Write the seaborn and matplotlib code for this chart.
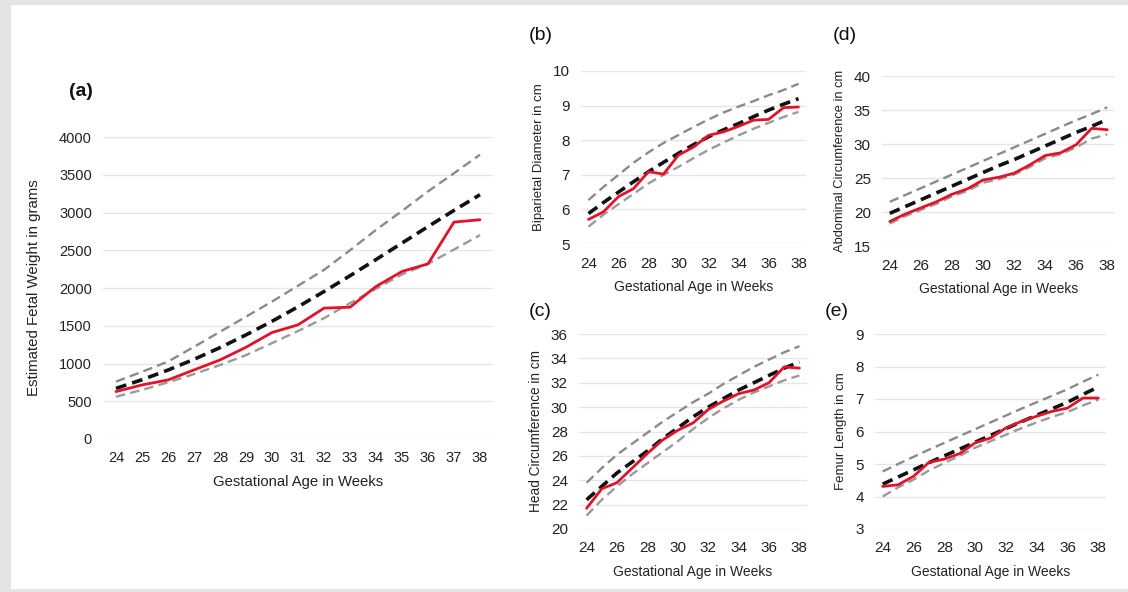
import numpy as np
import pandas as pd
import matplotlib
matplotlib.use("Agg")
import matplotlib.pyplot as plt
import seaborn as sns
from matplotlib.patches import Rectangle

weeks = list(range(24, 39))

# (a) Estimated fetal weight, grams
efw_p90 = [760, 890, 1025, 1220, 1420, 1620, 1820, 2030, 2240, 2500, 2770, 3020, 3280, 3520, 3766]
efw_p50 = [670, 785, 913, 1055, 1210, 1379, 1559, 1751, 1953, 2162, 2377, 2595, 2813, 3028, 3236]
efw_p10 = [560, 650, 750, 860, 980, 1110, 1270, 1430, 1600, 1800, 1990, 2180, 2320, 2510, 2700]
efw_obs = [628, 716, 782, 915, 1047, 1215, 1410, 1512, 1733, 1746, 2020, 2219, 2320, 2873, 2904]

# (b) Biparietal diameter, cm
bpd_p90 = [6.27, 6.65, 7.0, 7.35, 7.65, 7.92, 8.15, 8.38, 8.6, 8.8, 8.97, 9.13, 9.3, 9.45, 9.63]
bpd_p50 = [5.88, 6.2, 6.5, 6.8, 7.09, 7.36, 7.62, 7.87, 8.1, 8.3, 8.48, 8.68, 8.87, 9.04, 9.2]
bpd_p10 = [5.5, 5.85, 6.15, 6.45, 6.75, 7.0, 7.23, 7.48, 7.72, 7.93, 8.14, 8.33, 8.5, 8.67, 8.82]
bpd_obs = [5.71, 5.93, 6.37, 6.6, 7.09, 7.02, 7.57, 7.8, 8.14, 8.24, 8.4, 8.58, 8.6, 8.94, 8.96]

# (c) Head circumference, cm
hc_p90 = [23.8, 25.0, 26.1, 27.0, 27.9, 28.8, 29.6, 30.4, 31.1, 31.9, 32.6, 33.3, 33.9, 34.5, 35.0]
hc_p50 = [22.4, 23.5, 24.6, 25.5, 26.4, 27.4, 28.3, 29.2, 30.0, 30.7, 31.4, 32.0, 32.6, 33.2, 33.7]
hc_p10 = [21.1, 22.4, 23.5, 24.5, 25.4, 26.3, 27.2, 28.2, 29.1, 29.9, 30.6, 31.2, 31.7, 32.2, 32.6]
hc_obs = [21.7, 23.3, 23.8, 25.0, 26.2, 27.3, 28.1, 28.7, 29.8, 30.5, 31.1, 31.4, 32.0, 33.3, 33.2]

# (d) Abdominal circumference, cm
ac_p90 = [21.5, 22.5, 23.5, 24.5, 25.5, 26.5, 27.5, 28.5, 29.5, 30.5, 31.5, 32.5, 33.5, 34.4, 35.4]
ac_p50 = [19.8, 20.8, 21.8, 22.8, 23.8, 24.8, 25.8, 26.8, 27.7, 28.7, 29.7, 30.7, 31.7, 32.6, 33.6]
ac_p10 = [18.3, 19.4, 20.3, 21.2, 22.3, 23.1, 24.3, 24.8, 25.5, 26.6, 27.9, 28.5, 29.5, 30.8, 31.4]
ac_obs = [18.6, 19.7, 20.6, 21.5, 22.6, 23.4, 24.7, 25.1, 25.7, 26.9, 28.3, 28.7, 29.9, 32.3, 32.1]

# (e) Femur length, cm
fl_p90 = [4.77, 5.0, 5.22, 5.44, 5.65, 5.86, 6.07, 6.28, 6.49, 6.7, 6.9, 7.1, 7.3, 7.53, 7.75]
fl_p50 = [4.38, 4.6, 4.82, 5.04, 5.25, 5.46, 5.67, 5.88, 6.09, 6.3, 6.5, 6.7, 6.9, 7.14, 7.37]
fl_p10 = [4.0, 4.28, 4.52, 4.8, 5.03, 5.25, 5.5, 5.7, 5.9, 6.1, 6.28, 6.45, 6.6, 6.8, 6.98]
fl_obs = [4.31, 4.36, 4.62, 5.05, 5.15, 5.32, 5.65, 5.8, 6.11, 6.31, 6.47, 6.62, 6.72, 7.03, 7.03]

sns.set_style("white")
plt.rcParams['font.family'] = ['Liberation Sans', 'DejaVu Sans']

W, H = 1128, 592
fig = plt.figure(figsize=(W / 100, H / 100), dpi=100)
fig.patch.set_facecolor("white")
# light grey frame around the picture
for (x0, y0, w, h) in [(0, 0, 11, H), (0, 0, W, 3), (0, H - 5, W, 5)]:
    fig.patches.append(Rectangle((x0 / W, y0 / H), w / W, h / H, transform=fig.transFigure,
                                 facecolor="#e4e4e4", edgecolor="none", zorder=-5))


def px_axes(left, top, right, bottom):
    return fig.add_axes([left / W, 1 - bottom / H, (right - left) / W, (bottom - top) / H])


def draw_panel(ax, p90, p50, p10, obs, ylim, ystep, xticks, ylabel, tick_fs, ylab_fs, xlab_fs):
    df = pd.DataFrame({"week": weeks, "p90": p90, "p50": p50, "p10": p10, "obs": obs})
    sns.lineplot(data=df, x="week", y="p90", ax=ax, color="#8a8a8a", lw=1.7,
                 linestyle=(0, (4, 2.2)))
    sns.lineplot(data=df, x="week", y="p10", ax=ax, color="#9a9a9a", lw=1.7,
                 linestyle=(0, (4, 2.2)))
    sns.lineplot(data=df, x="week", y="p50", ax=ax, color="#111111", lw=2.6,
                 linestyle=(0, (3.0, 1.7)))
    sns.lineplot(data=df, x="week", y="obs", ax=ax, color="#e3122b", lw=2.0)
    ax.set_xlim(23.5, 38.5)
    ax.set_ylim(*ylim)
    ax.set_yticks(np.arange(ylim[0], ylim[1] + ystep / 2, ystep))
    ax.set_xticks(xticks)
    ax.yaxis.grid(True, color="#e6e6e6", lw=1)
    ax.set_axisbelow(True)
    ax.patch.set_alpha(0)
    for s in ax.spines.values():
        s.set_visible(False)
    ax.tick_params(axis="both", length=0, labelsize=tick_fs, colors="#222222")
    ax.tick_params(axis="x", pad=9)
    ax.tick_params(axis="y", pad=8)
    ax.set_ylabel(ylabel, fontsize=ylab_fs, color="#222222", labelpad=6)
    ax.set_xlabel("Gestational Age in Weeks", fontsize=xlab_fs, color="#222222", labelpad=7)


ax_a = px_axes(103, 137, 493, 439)
draw_panel(ax_a, efw_p90, efw_p50, efw_p10, efw_obs, (0, 4000), 500, weeks,
           "Estimated Fetal Weight in grams", 10.5, 10.8, 10.7)
ax_a.yaxis.labelpad = 13

ax_b = px_axes(581, 71, 806, 244)
draw_panel(ax_b, bpd_p90, bpd_p50, bpd_p10, bpd_obs, (5, 10), 1, weeks[::2],
           "Biparietal Diameter in cm", 11, 9.5, 10)

ax_d = px_axes(882, 76, 1115, 246)
draw_panel(ax_d, ac_p90, ac_p50, ac_p10, ac_obs, (15, 40), 5, weeks[::2],
           "Abdominal Circumference in cm", 11, 9.3, 10)

ax_c = px_axes(579, 334, 807, 529)
draw_panel(ax_c, hc_p90, hc_p50, hc_p10, hc_obs, (20, 36), 2, weeks[::2],
           "Head Circumference in cm", 11, 9.8, 10)

ax_e = px_axes(875, 334, 1106, 529)
draw_panel(ax_e, fl_p90, fl_p50, fl_p10, fl_obs, (3, 9), 1, weeks[::2],
           "Femur Length in cm", 11, 9.5, 10)

for lab, x, y, wt in [("(a)", 81, 92, "bold"), ("(b)", 541, 36, "normal"), ("(d)", 845, 36, "normal"),
                      ("(c)", 540, 312, "normal"), ("(e)", 837, 312, "normal")]:
    fig.text(x / W, 1 - y / H, lab, fontsize=14, fontweight=wt, ha="center", va="center",
             color="#111111")

fig.savefig("out.png", dpi=100, facecolor=fig.get_facecolor())
